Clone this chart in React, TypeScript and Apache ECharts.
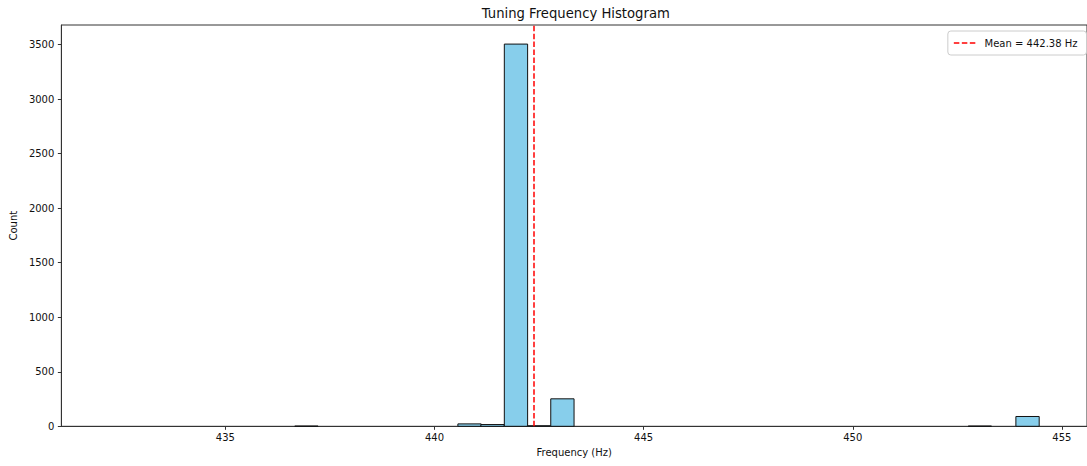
import React, { useEffect, useRef } from "react";
import * as echarts from "echarts";

// Histogram bins that hold data: left edge (Hz), and count
const binStarts = [436.66, 440.56, 441.11, 441.67, 442.22, 442.78, 452.76, 453.9];
const binCounts = [2, 22, 16, 3505, 5, 252, 2, 90];
const binWidth = 0.557;
const meanFrequency = 442.38;

const xTicks = [435, 440, 445, 450, 455];
const yTicks = [0, 500, 1000, 1500, 2000, 2500, 3000, 3500];
const xMin = 431.08;
const xMax = 455.6;
const yMax = 3680;

const titleText = "Tuning Frequency Histogram";
const xName = "Frequency (Hz)";
const yName = "Count";
const meanLabel = `Mean = ${meanFrequency.toFixed(2)} Hz`;

const FONT = "DejaVu Sans";
const dashIcon =
  "path://M0,0L5.5,0L5.5,1.5L0,1.5Z M8,0L13.5,0L13.5,1.5L8,1.5Z M16,0L21.5,0L21.5,1.5L16,1.5Z";

export default function App() {
  const ref = useRef<HTMLDivElement>(null);
  useEffect(() => {
    document.body.style.margin = "0";
    if (!ref.current) return;
    const chart = echarts.init(ref.current, undefined, { renderer: "svg" });
    const histData = binStarts.map((s, i) => [s, s + binWidth, binCounts[i]]);
    chart.setOption({
      animation: false,
      backgroundColor: "#ffffff",
      textStyle: { fontFamily: FONT },
      title: {
        text: titleText,
        left: 570.8,
        textAlign: "center",
        top: 2,
        textStyle: { fontFamily: FONT, fontSize: 13.2, fontWeight: "normal", color: "#111" },
      },
      grid: {
        left: 58.7,
        top: 25,
        width: 1034,
        height: 401.3,
        show: true,
        borderColor: "#333",
        borderWidth: 1,
        backgroundColor: "transparent",
      },
      legend: {
        right: 0.5,
        top: 31,
        backgroundColor: "#fff",
        borderColor: "#cccccc",
        borderWidth: 1,
        borderRadius: 3,
        padding: [5, 9, 5, 6],
        itemWidth: 22,
        itemHeight: 1.5,
        data: [{ name: meanLabel, icon: dashIcon }],
        textStyle: { fontFamily: FONT, fontSize: 10, color: "#111", padding: [0, 0, 0, 4], lineHeight: 14 },
      },
      xAxis: {
        type: "value",
        min: xMin,
        max: xMax,
        name: xName,
        nameLocation: "middle",
        nameGap: 20,
        nameTextStyle: { fontFamily: FONT, fontSize: 10, color: "#111" },
        axisLine: { show: true, lineStyle: { color: "#333", width: 1 } },
        axisTick: { show: true, length: 3.5, customValues: xTicks, lineStyle: { color: "#333" } },
        axisLabel: {
          customValues: xTicks,
          margin: 6,
          fontFamily: FONT,
          fontSize: 10,
          color: "#111",
          formatter: (v: number) => String(v),
        },
        splitLine: { show: false },
      },
      yAxis: {
        type: "value",
        min: 0,
        max: yMax,
        name: yName,
        nameLocation: "middle",
        nameGap: 41,
        nameTextStyle: { fontFamily: FONT, fontSize: 10, color: "#111" },
        axisLine: { show: true, lineStyle: { color: "#333", width: 1 } },
        axisTick: { show: true, length: 3.5, customValues: yTicks, lineStyle: { color: "#333" } },
        axisLabel: {
          customValues: yTicks,
          margin: 7,
          fontFamily: FONT,
          fontSize: 10,
          color: "#111",
          formatter: (v: number) => String(v),
        },
        splitLine: { show: false },
      },
      series: [
        {
          type: "custom",
          name: "hist",
          data: histData,
          encode: { x: [0, 1], y: 2 },
          renderItem: (params: any, api: any) => {
            const x0 = api.value(0);
            const x1 = api.value(1);
            const c = api.value(2);
            const p0 = api.coord([x0, c]);
            const p1 = api.coord([x1, 0]);
            return {
              type: "rect",
              shape: { x: p0[0], y: p0[1], width: p1[0] - p0[0], height: p1[1] - p0[1] },
              style: { fill: "#87CEEB", stroke: "#111", lineWidth: 1 },
            };
          },
          z: 2,
        },
        {
          type: "line",
          name: meanLabel,
          data: [],
          symbol: "none",
          lineStyle: { color: "#ff0000", width: 1.5, type: [5.5, 2.4] },
          itemStyle: { color: "#ff0000" },
          markLine: {
            silent: true,
            symbol: "none",
            label: { show: false },
            lineStyle: { color: "#ff0000", width: 1.5, type: [5.5, 2.4] },
            data: [{ xAxis: meanFrequency }],
          },
          z: 3,
        },
      ],
    });
    return () => chart.dispose();
  }, []);
  return <div ref={ref} style={{ width: 1087, height: 466 }} />;
}
